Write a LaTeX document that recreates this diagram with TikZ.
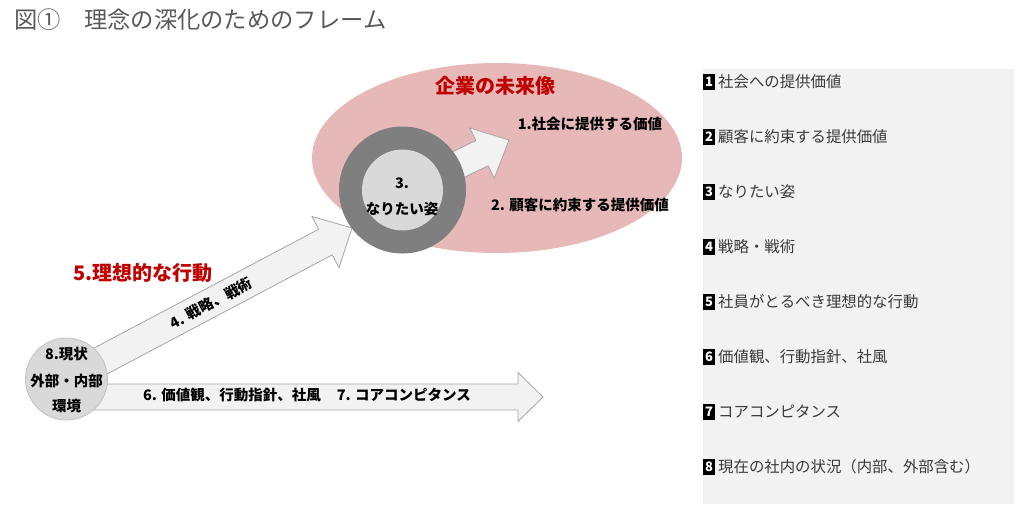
\documentclass[tikz,border=0pt]{standalone}
\usepackage{fontspec}
\setmainfont{Noto Sans CJK JP}
\usetikzlibrary{calc}
\definecolor{pinkfill}{HTML}{E6B9B8}
\definecolor{darkred}{HTML}{C00000}
\definecolor{ringgray}{HTML}{7F7F7F}
\definecolor{innergray}{HTML}{D9D9D9}
\definecolor{arrowfill}{HTML}{F2F2F2}
\definecolor{arrowline}{HTML}{A6A6A6}
\definecolor{panelgray}{HTML}{F2F2F2}
\definecolor{titlegray}{HTML}{595959}
\definecolor{itemtext}{HTML}{3A3A3A}
\newcommand{\blockarrow}[6]{%
  \coordinate (hb) at ($(#3)!#6!(#2)$);
  \draw[#1] ($(#2)!#4!90:(#3)$) -- ($(hb)!#4!90:(#3)$) -- ($(hb)!#5!90:(#3)$) -- (#3)
    -- ($(hb)!#5!-90:(#3)$) -- ($(hb)!#4!-90:(#3)$) -- ($(#2)!#4!-90:(#3)$) -- cycle;}
\tikzset{
  blockarr/.style={fill=arrowfill, draw=arrowline, line width=0.8pt, line join=miter},
  lbl/.style={font=\fontsize{14.5}{17}\selectfont\bfseries, text=black, inner sep=0},
  redlbl/.style={font=\fontsize{20}{23}\selectfont\bfseries, text=darkred, inner sep=0},
  badge/.style={fill=black, text=white, font=\fontsize{13}{14}\selectfont\bfseries, inner sep=0, minimum width=12, minimum height=16},
  item/.style={font=\fontsize{15.4}{18}\selectfont, text=itemtext, inner sep=0, anchor=west},
}
\begin{document}
\begin{tikzpicture}[x=1pt,y=-1pt]
\useasboundingbox (0,0) rectangle (1024,504);
% title
\node[anchor=west, inner sep=0, text=titlegray, font=\fontsize{23.3}{27}\selectfont] (title) at (14,20) {図①　理念の深化のためのフレーム};
% right panel
\fill[panelgray] (703,69) rectangle (1014,504);
\foreach \n/\t [count=\i from 0] in {1/社会への提供価値, 2/顧客に約束する提供価値, 3/なりたい姿, 4/戦略・戦術, 5/社員がとるべき理想的な行動, 6/価値観、行動指針、社風, 7/コアコンピタンス, 8/現在の社内の状況（内部、外部含む）}{
  \node[badge] (b\n) at (709,{82+55*\i}) {\n};
  \node[item] (t\n) at (718,{82+55*\i}) {\t};
}
% future ellipse
\fill[pinkfill] (497,158) ellipse [x radius=185, y radius=95];
\node[redlbl] (future) at (495,86) {企業の未来像};
% coordinates
\coordinate (ringc) at (402,192);
\coordinate (tip1) at (509,140);
\coordinate (c8c) at (66.5,379);
\coordinate (tip2) at (352,228);
\coordinate (h0) at (66,397);
\coordinate (tip3) at (543,397);
% arrows
\blockarrow{blockarr}{ringc}{tip1}{14pt}{28pt}{30pt}
\blockarrow{blockarr}{c8c}{tip2}{14.5pt}{29pt}{30pt}
\blockarrow{blockarr}{h0}{tip3}{13pt}{24.5pt}{25pt}
% ring
\node[circle, fill=ringgray, minimum size=127, inner sep=0] (ring) at (402.5,190) {};
\node[circle, fill=innergray, minimum size=81, inner sep=0] (ringin) at (ring.center) {};
\node[lbl] (r1) at (402,183) {3.};
\node[lbl] (r2) at (402,209) {なりたい姿};
% circle 8
\node[circle, fill=innergray, draw=arrowline!70, line width=0.8pt, minimum size=82, inner sep=0] (c8) at (c8c) {};
\node[lbl] (c8a) at (66.5,354) {8.現状};
\node[lbl] (c8b) at (66.5,381) {外部・内部};
\node[lbl] (c8c2) at (66.5,406) {環境};
% labels
\node[lbl] (l1) at (590,124) {1.社会に提供する価値};
\node[lbl] (l2) at (580,205) {2. 顧客に約束する提供価値};
\node[redlbl] (l5) at (143,273) {5.理想的な行動};
\node[lbl, rotate=28] (l4) at (211,303) {4. 戦略、戦術};
\node[lbl] (l6) at (307,395) {6. 価値観、行動指針、社風\hspace{1.1em}7. コアコンピタンス};
\end{tikzpicture}
\end{document}
